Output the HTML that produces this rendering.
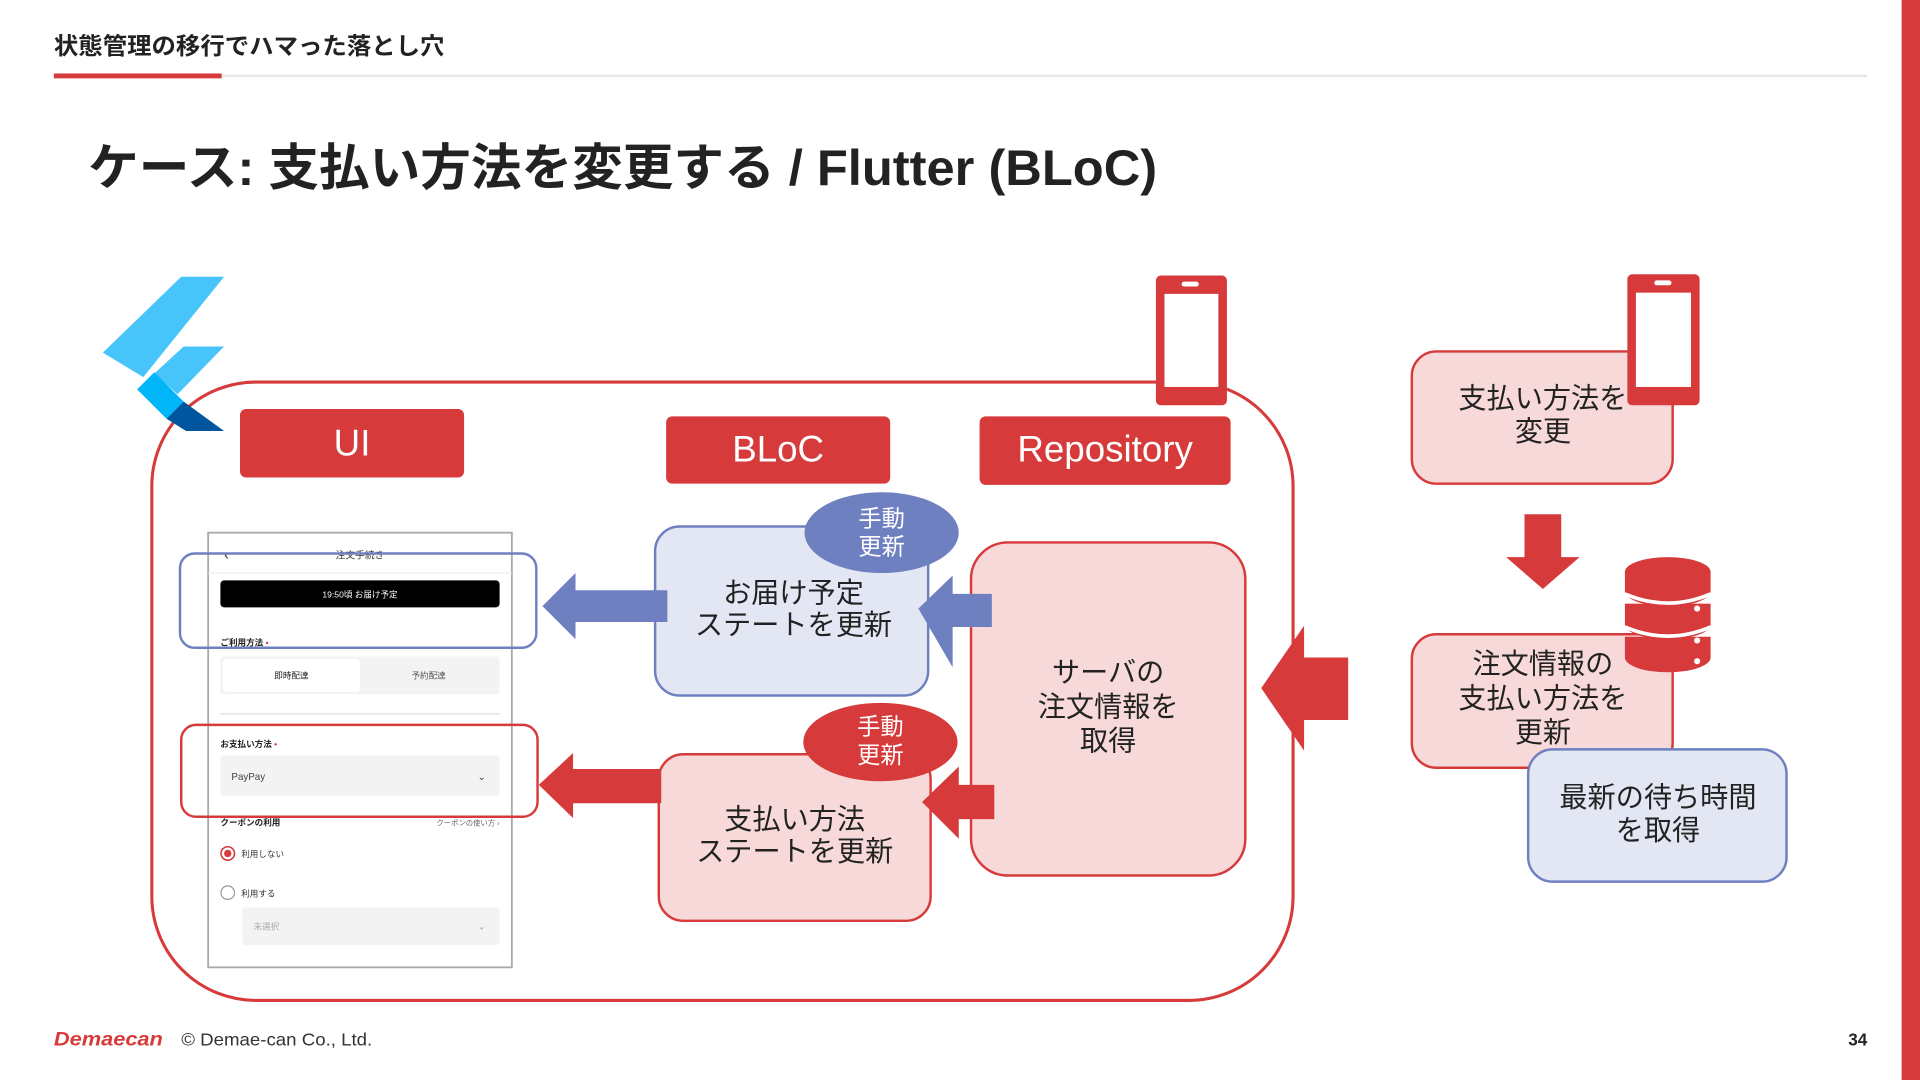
<!DOCTYPE html>
<html><head><meta charset="utf-8"><style>
html,body{margin:0;padding:0;background:#fff;}
svg{display:block;}
text{font-family:"Liberation Sans","Noto Sans CJK JP",sans-serif;}
</style></head><body>
<svg width="1920" height="1080" viewBox="0 0 1568 882" xmlns="http://www.w3.org/2000/svg">
<rect x="1553" y="0" width="15" height="882" fill="#d73a3a"/>
<text x="44" y="44" font-size="19" font-weight="bold" fill="#222" textLength="319" lengthAdjust="spacingAndGlyphs">状態管理の移行でハマった落とし穴</text>
<rect x="44" y="61" width="1481" height="2" fill="#e6e6e6"/>
<rect x="44" y="60" width="137" height="4" fill="#d73a3a"/>
<text x="72" y="151" font-size="41" font-weight="bold" fill="#222" textLength="873" lengthAdjust="spacingAndGlyphs">ケース: 支払い方法を変更する / Flutter (BLoC)</text>

<rect x="124" y="312" width="932" height="505" rx="85" fill="none" stroke="#d73a3a" stroke-width="2.5"/>

<polygon points="148,226 183,226 117,308 84,288" fill="#47c5fb"/>
<polygon points="150,283 183,283 145,322 126,305" fill="#47c5fb"/>
<polygon points="112,318 126,304 150,328 136,342" fill="#00b5f8"/>
<polygon points="136,342 150,328 183,352 152,352" fill="#00569e"/>

<rect x="944" y="225" width="58" height="106" rx="4" fill="#d73a3a"/>
<rect x="951" y="240" width="44" height="76" fill="#fff"/>
<rect x="965" y="230" width="14" height="4" rx="2" fill="#fff"/>

<rect x="196" y="334" width="183" height="56" rx="5" fill="#d73a3a"/>
<text x="287.5" y="372" font-size="30" fill="#fff" text-anchor="middle">UI</text>
<rect x="544" y="340" width="183" height="55" rx="5" fill="#d73a3a"/>
<text x="635.5" y="377" font-size="30" fill="#fff" text-anchor="middle">BLoC</text>
<rect x="800" y="340" width="205" height="56" rx="5" fill="#d73a3a"/>
<text x="902.5" y="377" font-size="30" fill="#fff" text-anchor="middle">Repository</text>

<rect x="170" y="435" width="248" height="355" fill="#fff" stroke="#aaa" stroke-width="1.5"/>
<text x="183" y="457" font-size="12" fill="#333">‹</text>
<text x="294" y="456" font-size="8" fill="#333" text-anchor="middle">注文手続き</text>
<line x1="170" y1="468" x2="418" y2="468" stroke="#eee"/>
<rect x="180" y="474" width="228" height="22" rx="3" fill="#000"/>
<text x="294" y="488" font-size="7" fill="#fff" text-anchor="middle">19:50頃 お届け予定</text>
<text x="180" y="527" font-size="7" fill="#222" font-weight="bold">ご利用方法 <tspan fill="#d73a3a">•</tspan></text>
<rect x="180" y="536" width="228" height="31" rx="3" fill="#f3f3f3"/>
<rect x="182" y="538" width="112" height="27" rx="3" fill="#fff"/>
<text x="238" y="554" font-size="7" fill="#222" text-anchor="middle">即時配達</text>
<text x="350" y="554" font-size="7" fill="#555" text-anchor="middle">予約配達</text>
<line x1="180" y1="583" x2="408" y2="583" stroke="#ddd"/>
<text x="180" y="610" font-size="7" fill="#222" font-weight="bold">お支払い方法 <tspan fill="#d73a3a">•</tspan></text>
<rect x="180" y="617" width="228" height="33" rx="3" fill="#f3f3f3"/>
<text x="189" y="637" font-size="8" fill="#444">PayPay</text>
<text x="390" y="637" font-size="8" fill="#444">⌄</text>
<text x="180" y="674" font-size="7" fill="#222" font-weight="bold">クーポンの利用</text>
<text x="408" y="674" font-size="6" fill="#666" text-anchor="end">クーポンの使い方 ›</text>
<circle cx="186" cy="697" r="5.5" fill="none" stroke="#d73a3a" stroke-width="1.3"/>
<circle cx="186" cy="697" r="3" fill="#d73a3a"/>
<text x="197" y="700" font-size="7" fill="#333">利用しない</text>
<circle cx="186" cy="729" r="5.5" fill="none" stroke="#999" stroke-width="1"/>
<text x="197" y="732" font-size="7" fill="#333">利用する</text>
<rect x="198" y="741" width="210" height="31" rx="3" fill="#f3f3f3"/>
<text x="207" y="759" font-size="7" fill="#aaa">未選択</text>
<text x="390" y="759" font-size="8" fill="#aaa">⌄</text>

<rect x="147" y="452" width="291" height="77" rx="12" fill="none" stroke="#6f80c0" stroke-width="2"/>
<rect x="148" y="592" width="291" height="75" rx="12" fill="none" stroke="#d73a3a" stroke-width="2"/>

<rect x="535" y="430" width="223" height="138" rx="20" fill="#e3e6f3" stroke="#6f80c0" stroke-width="2"/>
<text x="648" y="492" font-size="23" fill="#222" text-anchor="middle">お届け予定</text>
<text x="648" y="518" font-size="23" fill="#222" text-anchor="middle">ステートを更新</text>
<ellipse cx="720" cy="435" rx="63" ry="33" fill="#6f80c0"/>
<text x="720" y="430" font-size="19" fill="#fff" text-anchor="middle">手動</text>
<text x="720" y="453" font-size="19" fill="#fff" text-anchor="middle">更新</text>

<rect x="538" y="616" width="222" height="136" rx="20" fill="#f8d9d9" stroke="#d73a3a" stroke-width="2"/>
<text x="649" y="677" font-size="23" fill="#222" text-anchor="middle">支払い方法</text>
<text x="649" y="703" font-size="23" fill="#222" text-anchor="middle">ステートを更新</text>
<ellipse cx="719" cy="606" rx="63" ry="32" fill="#d73a3a"/>
<text x="719" y="600" font-size="19" fill="#fff" text-anchor="middle">手動</text>
<text x="719" y="623" font-size="19" fill="#fff" text-anchor="middle">更新</text>

<rect x="793" y="443" width="224" height="272" rx="30" fill="#f8d9d9" stroke="#d73a3a" stroke-width="2"/>
<text x="905" y="557" font-size="23" fill="#222" text-anchor="middle">サーバの</text>
<text x="905" y="585" font-size="23" fill="#222" text-anchor="middle">注文情報を</text>
<text x="905" y="613" font-size="23" fill="#222" text-anchor="middle">取得</text>

<polygon points="443,495 470,468 470,482 545,482 545,508 470,508 470,522" fill="#6f80c0"/>
<polygon points="750,497 778,470 778,485 810,485 810,512 778,512 778,545" fill="#6f80c0"/>
<polygon points="440,641 468,615 468,628 540,628 540,656 468,656 468,668" fill="#d73a3a"/>
<polygon points="753,655 783,626 783,641 812,641 812,669 783,669 783,685" fill="#d73a3a"/>
<polygon points="1030,562 1065,511 1065,537 1101,537 1101,588 1065,588 1065,613" fill="#d73a3a"/>

<rect x="1153" y="287" width="213" height="108" rx="20" fill="#f8d9d9" stroke="#d73a3a" stroke-width="2"/>
<text x="1260" y="333" font-size="23" fill="#222" text-anchor="middle">支払い方法を</text>
<text x="1260" y="360" font-size="23" fill="#222" text-anchor="middle">変更</text>
<rect x="1329" y="224" width="59" height="107" rx="4" fill="#d73a3a"/>
<rect x="1336" y="239" width="45" height="77" fill="#fff"/>
<rect x="1351" y="229" width="14" height="4" rx="2" fill="#fff"/>

<polygon points="1245,420 1275,420 1275,455 1290,455 1260,481 1230,455 1245,455" fill="#d73a3a"/>

<rect x="1153" y="518" width="213" height="109" rx="20" fill="#f8d9d9" stroke="#d73a3a" stroke-width="2"/>
<text x="1260" y="550" font-size="23" fill="#222" text-anchor="middle">注文情報の</text>
<text x="1260" y="578" font-size="23" fill="#222" text-anchor="middle">支払い方法を</text>
<text x="1260" y="606" font-size="23" fill="#222" text-anchor="middle">更新</text>

<g fill="#d73a3a">
<ellipse cx="1362" cy="467" rx="35" ry="12"/>
<rect x="1327" y="467" width="70" height="16"/>
<ellipse cx="1362" cy="483" rx="35" ry="12"/>
<rect x="1327" y="493" width="70" height="17"/>
<ellipse cx="1362" cy="510" rx="35" ry="12"/>
<rect x="1327" y="520" width="70" height="17"/>
<ellipse cx="1362" cy="537" rx="35" ry="12"/>
</g>
<path d="M1327,485 Q1362,500 1397,485" stroke="#fff" stroke-width="3" fill="none"/>
<path d="M1327,512 Q1362,527 1397,512" stroke="#fff" stroke-width="3" fill="none"/>
<circle cx="1386" cy="497" r="2.5" fill="#fff"/>
<circle cx="1386" cy="523" r="2.5" fill="#fff"/>
<circle cx="1386" cy="540" r="2.5" fill="#fff"/>

<rect x="1248" y="612" width="211" height="108" rx="20" fill="#e3e6f3" stroke="#6f80c0" stroke-width="2"/>
<text x="1354" y="659" font-size="23" fill="#222" text-anchor="middle">最新の待ち時間</text>
<text x="1354" y="686" font-size="23" fill="#222" text-anchor="middle">を取得</text>

<text x="44" y="854" font-size="16" font-weight="bold" fill="#d73a3a" font-style="italic" textLength="89" lengthAdjust="spacingAndGlyphs">Demaecan</text>
<text x="148" y="854" font-size="14" fill="#333" textLength="156" lengthAdjust="spacingAndGlyphs">© Demae-can Co., Ltd.</text>
<text x="1525" y="854" font-size="14" font-weight="bold" fill="#222" text-anchor="end">34</text>
</svg>
</body></html>
